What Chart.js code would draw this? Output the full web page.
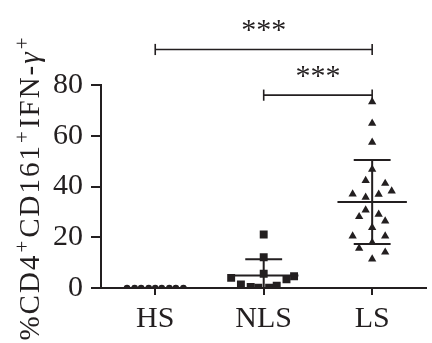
<!DOCTYPE html>
<html><head><meta charset="utf-8">
<script src="https://cdn.jsdelivr.net/npm/chart.js@4/dist/chart.umd.min.js"></script>
<style>html,body{margin:0;padding:0;background:#fff}#wrap{width:432px;height:343px}</style>
</head><body><div id="wrap"><canvas id="c" width="432" height="343"></canvas></div>
<script>
// ---- data ----
const categories = ['HS', 'NLS', 'LS'];
const hsValues  = [0, 0, 0, 0, 0, 0, 0, 0, 0];
const hsJitter  = [-0.26, -0.19, -0.13, -0.06, 0, 0.06, 0.13, 0.19, 0.26];
const nlsValues = [21.1, 12.1, 5.6, 4.0, 4.6, 3.4, 1.4, 0.4, 0.1, 0.1, 0.9];
const nlsJitter = [0, 0, 0, -0.30, 0.28, 0.21, -0.21, -0.12, -0.05, 0.05, 0.12];
const lsValues  = [73.4, 64.9, 57.4, 46.8, 42.3, 41.2, 38.2, 37.0, 35.7, 36.9, 30.7,
                   28.1, 29.0, 26.4, 23.8, 20.5, 20.5, 17.9, 15.6, 14.1, 11.4];
const lsJitter  = [0, 0, 0, 0, -0.06, 0.12, 0.18, -0.18, -0.06, 0.06, -0.06,
                   -0.12, 0.06, 0.12, 0, -0.18, 0.12, 0, -0.12, 0.12, 0];
const yTicks = [0, 20, 40, 60, 80];
const compFrom  = ['HS', 'NLS'];
const compTo    = ['LS', 'LS'];
const compLevel = [94, 76];
const compLabel = ['***', '***'];
const yTitleParts = [['%CD4', 'n'], ['+', 's'], ['CD161', 'n'], ['+', 's'], ['IFN-', 'n'], ['\u03B3', 'i'], ['+', 's']];

// ---- styles ----
const INK = '#231f20';
const FONT = '"Liberation Serif", "Times New Roman", serif';
const MEAN_HALF = 0.32, CAP_HALF = 0.17, BR_CAP = 2.2;

const groups = [
  { vals: hsValues,  jit: hsJitter,  style: 'circle',   r: 3.3 },
  { vals: nlsValues, jit: nlsJitter, style: 'rect',     r: 5.6 },
  { vals: lsValues,  jit: lsJitter,  style: 'triangle', r: 4.8 }
];

const datasets = [];
function seg(x1, y1, x2, y2, w, clip) {
  const d = { type: 'line', data: [{x: x1, y: y1}, {x: x2, y: y2}], borderColor: INK,
    borderWidth: w, pointRadius: 0, showLine: true, fill: false, order: 2 };
  if (clip === false) d.clip = false;
  datasets.push(d);
}
groups.forEach((g, i) => {
  const c = i + 1;
  datasets.push({ type: 'scatter', data: g.vals.map((v, k) => ({x: c + g.jit[k], y: v})),
    pointStyle: g.style, pointRadius: g.r, pointHoverRadius: g.r, backgroundColor: INK,
    borderColor: INK, borderWidth: 0, order: 1 });
  const n = g.vals.length;
  const m = g.vals.reduce((a, b) => a + b, 0) / n;
  const sd = Math.sqrt(g.vals.reduce((a, b) => a + (b - m) * (b - m), 0) / (n - 1));
  seg(c - MEAN_HALF, m, c + MEAN_HALF, m, 2);
  seg(c, m - sd, c, m + sd, 2);
  seg(c - CAP_HALF, m + sd, c + CAP_HALF, m + sd, 2);
  seg(c - CAP_HALF, m - sd, c + CAP_HALF, m - sd, 2);
});
compFrom.forEach((f, i) => {
  const a = categories.indexOf(f) + 1, b = categories.indexOf(compTo[i]) + 1, L = compLevel[i];
  seg(a, L, b, L, 1.6, false);
  seg(a, L - BR_CAP, a, L + BR_CAP, 1.6, false);
  seg(b, L - BR_CAP, b, L + BR_CAP, 1.6, false);
});

const starPlugin = {
  id: 'stars',
  afterDatasetsDraw(chart) {
    const ctx = chart.ctx, xs = chart.scales.x, ys = chart.scales.y;
    ctx.save();
    ctx.fillStyle = INK;
    ctx.font = '30px ' + FONT;
    ctx.textAlign = 'center';
    ctx.textBaseline = 'alphabetic';
    compFrom.forEach((f, i) => {
      const a = categories.indexOf(f) + 1, b = categories.indexOf(compTo[i]) + 1;
      const px = (xs.getPixelForValue(a) + xs.getPixelForValue(b)) / 2;
      const py = ys.getPixelForValue(compLevel[i]) - 10;
      ctx.fillText(compLabel[i], px, py);
    });
    ctx.restore();
  }
};

const titlePlugin = {
  id: 'ytitle',
  afterDraw(chart) {
    const ctx = chart.ctx, area = chart.chartArea;
    const fonts = { n: '29px ' + FONT, s: '21px ' + FONT, i: 'italic 29px ' + FONT };
    const SP = 2;
    ctx.save();
    ctx.fillStyle = INK;
    ctx.textBaseline = 'alphabetic';
    ctx.textAlign = 'left';
    let total = 0;
    const widths = yTitleParts.map(p => {
      ctx.font = fonts[p[1]];
      const w = ctx.measureText(p[0]).width + p[0].length * SP + (p[1] === 's' ? 2 : 0);
      total += w; return w;
    });
    ctx.translate(39, (area.top + area.bottom) / 2 + 1);
    ctx.rotate(-Math.PI / 2);
    let x = -total / 2;
    yTitleParts.forEach((p, k) => {
      ctx.font = fonts[p[1]];
      let cx = x + (p[1] === 's' ? 1 : 0);
      for (const ch of p[0]) {
        ctx.fillText(ch, cx, p[1] === 's' ? -10 : 0);
        cx += ctx.measureText(ch).width + SP;
      }
      x += widths[k];
    });
    ctx.restore();
  }
};

new Chart(document.getElementById('c'), {
  type: 'scatter',
  data: { datasets },
  options: {
    responsive: false, animation: false, devicePixelRatio: 1,
    layout: { padding: { top: 85, right: 2, left: 0, bottom: 0 } },
    plugins: { legend: { display: false }, tooltip: { enabled: false } },
    scales: {
      x: {
        type: 'linear', min: 0.5, max: 3.5,
        afterBuildTicks: s => { s.ticks = categories.map((c, i) => ({ value: i + 1 })); },
        afterFit: s => { s.height = 55; },
        ticks: { callback: v => categories[v - 1], font: { family: FONT, size: 30 }, color: INK, padding: 6, maxRotation: 0, autoSkip: false },
        grid: { drawOnChartArea: false, drawTicks: true, tickLength: 7, lineWidth: 2, color: INK },
        border: { display: true, width: 2, color: INK }
      },
      y: {
        type: 'linear', min: 0, max: 80,
        afterBuildTicks: s => { s.ticks = yTicks.map(v => ({ value: v })); },
        afterFit: s => { s.width = 101; },
        ticks: { font: { family: FONT, size: 30 }, color: INK, padding: 8 },
        grid: { drawOnChartArea: false, drawTicks: true, tickLength: 10, lineWidth: 2, color: INK },
        border: { display: true, width: 2, color: INK }
      }
    }
  },
  plugins: [starPlugin, titlePlugin]
});
</script></body></html>
